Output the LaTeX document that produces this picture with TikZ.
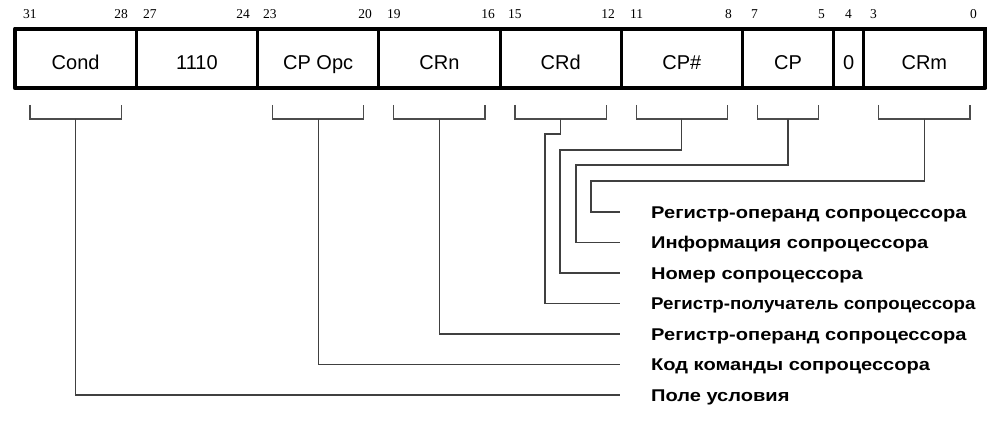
\documentclass[tikz,border=0pt]{standalone}
\usepackage{fontspec}
\setmainfont{Liberation Sans}
\newfontfamily\serifnum{Liberation Serif}
\newfontfamily\descfont{Liberation Sans}[FakeStretch=1.18]
\newfontfamily\descfontn{Liberation Sans}[FakeStretch=1.10]
\usetikzlibrary{calc}
\begin{document}
\begin{tikzpicture}[x=1pt,y=-1pt,
  field/.style={draw=black, line width=3pt, minimum height=59pt, inner sep=0pt, outer sep=0pt,
    font=\fontsize{20}{24}\selectfont, text height=21.6pt, text depth=0pt, anchor=center},
  bitnum/.style={font=\serifnum\fontsize{13.5}{16}\selectfont, inner sep=0pt},
  brk/.style={draw=black!70, line width=1.1pt},
  conn/.style={draw=black!75, line width=1.2pt},
  desc/.style={font=\descfont\bfseries\fontsize{17}{20}\selectfont, inner sep=0pt, anchor=base west},
  descn/.style={desc, font=\descfontn\bfseries\fontsize{17}{20}\selectfont},
]
\useasboundingbox (0,0) rectangle (1000,422);
% fields
\node[field, minimum width=121.25pt] (fCond) at (75.625,58.5) {Cond};
\node[field, minimum width=121.25pt] (fOne) at (196.875,58.5) {1110};
\node[field, minimum width=121.25pt] (fOpc) at (318.125,58.5) {CP Opc};
\node[field, minimum width=121.25pt] (fRn) at (439.375,58.5) {CRn};
\node[field, minimum width=121.25pt] (fRd) at (560.625,58.5) {CRd};
\node[field, minimum width=121.25pt] (fNum) at (681.875,58.5) {CP\#};
\node[field, minimum width=90.94pt] (fCP) at (787.97,58.5) {CP};
\node[field, minimum width=30.31pt] (fZero) at (848.59,58.5) {0};
\node[field, minimum width=121.25pt] (fRm) at (924.375,58.5) {CRm};
\draw[line width=4.5pt, line join=round] (fCond.north west) rectangle (fRm.south east);
% bit numbers
\node[bitnum, anchor=base west] (b31) at (23,19) {31};
\node[bitnum, anchor=base east] (b28) at (128,19) {28};
\node[bitnum, anchor=base west] (b27) at (143,19) {27};
\node[bitnum, anchor=base east] (b24) at (250,19) {24};
\node[bitnum, anchor=base west] (b23) at (263,19) {23};
\node[bitnum, anchor=base east] (b20) at (372,19) {20};
\node[bitnum, anchor=base west] (b19) at (387,19) {19};
\node[bitnum, anchor=base east] (b16) at (495,19) {16};
\node[bitnum, anchor=base west] (b15) at (508,19) {15};
\node[bitnum, anchor=base east] (b12) at (615,19) {12};
\node[bitnum, anchor=base west] (b11) at (630,19) {11};
\node[bitnum, anchor=base east] (b8) at (732,19) {8};
\node[bitnum, anchor=base west] (b7) at (751,19) {7};
\node[bitnum, anchor=base east] (b5) at (825,19) {5};
\node[bitnum, anchor=base] (b4) at (848.6,19) {4};
\node[bitnum, anchor=base west] (b3) at (870,19) {3};
\node[bitnum, anchor=base east] (b0) at (977,19) {0};
% brackets
\foreach \f/\s in {fCond/sCond, fOpc/sOpc, fRn/sRn, fRd/sRd, fNum/sNum, fCP/sCP, fRm/sRm}{
  \draw[brk] ($(\f.south west)+(15,17)$) -- ++(0,14) -| ($(\f.south east)+(-15,17)$);
  \coordinate (\s) at ($(\f.south)+(0,31)$);
}
% label texts
\node[desc] (lOp) at (651,218) {Регистр-операнд сопроцессора};
\node[desc] (lInfo) at (651,248.5) {Информация сопроцессора};
\node[desc] (lNum) at (651,279) {Номер сопроцессора};
\node[descn] (lRd) at (651,309.5) {Регистр-получатель сопроцессора};
\node[desc] (lRn) at (651,340) {Регистр-операнд сопроцессора};
\node[desc] (lOpc) at (651,370.5) {Код команды сопроцессора};
\node[desc] (lCond) at (651,401) {Поле условия};
% connector ends
\coordinate (eOp) at (620,212);
\coordinate (eInfo) at (620,242.5);
\coordinate (eNum) at (620,273);
\coordinate (eRd) at (620,303.5);
\coordinate (eRn) at (620,334);
\coordinate (eOpc) at (620,364.5);
\coordinate (eCond) at (620,395);
% connectors
\draw[conn] (sCond) |- (eCond);
\draw[conn] (sOpc) |- (eOpc);
\draw[conn] (sRn) |- (eRn);
\draw[conn] (sRd) |- (545,134) |- (eRd);
\draw[conn] (sNum) |- (560,150) |- (eNum);
\draw[conn] (sCP) |- (576,165) |- (eInfo);
\draw[conn] (sRm) |- (591,181) |- (eOp);
\end{tikzpicture}
\end{document}
